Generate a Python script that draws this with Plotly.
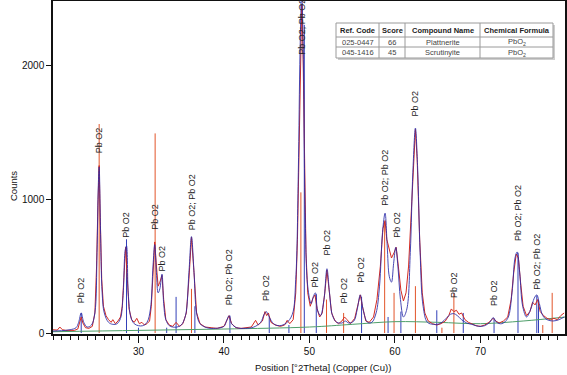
import plotly.graph_objects as go

# ---------------- data ----------------
# measured pattern (red)
obs_x = [20.0, 20.5, 20.8, 21.1, 21.5, 22.0, 22.5, 22.9, 23.1, 23.3, 23.5, 23.8, 24.2, 24.6, 24.9,
         25.1, 25.25, 25.4, 25.55, 25.7, 25.9, 26.2, 26.5, 26.8, 27.0, 27.3, 27.6, 27.9, 28.1, 28.3,
         28.5, 28.7, 28.9, 29.2, 29.5, 29.8, 30.1, 30.4, 30.7, 31.0, 31.3, 31.5, 31.7, 31.9, 32.1,
         32.3, 32.5, 32.75, 32.95, 33.2, 33.6, 34.0, 34.4, 34.8, 35.2, 35.6, 35.9, 36.2, 36.5, 36.8,
         37.2, 37.8, 38.5, 39.2, 40.0, 40.3, 40.6, 40.9, 41.4, 42.0, 42.6, 43.2, 43.7, 44.0, 44.5,
         44.8, 45.0, 45.2, 45.5, 46.0, 46.6, 47.1, 47.4, 47.7, 48.1, 48.4, 48.6, 48.8, 48.95, 49.1,
         49.25, 49.4, 49.6, 49.8, 50.1, 50.4, 50.65, 50.9, 51.2, 51.5, 51.8, 52.05, 52.3, 52.6, 53.0,
         53.4, 53.8, 54.1, 54.4, 54.8, 55.3, 55.7, 55.95, 56.2, 56.6, 57.0, 57.5, 57.9, 58.3, 58.6,
         58.85, 59.05, 59.3, 59.6, 59.9, 60.15, 60.4, 60.7, 61.0, 61.3, 61.6, 61.9, 62.2, 62.4, 62.6,
         62.9, 63.2, 63.5, 63.9, 64.4, 64.9, 65.4, 65.9, 66.3, 66.6, 66.9, 67.2, 67.5, 67.8, 68.2,
         68.6, 69.0, 69.5, 70.0, 70.5, 71.0, 71.5, 71.8, 72.2, 72.7, 73.2, 73.6, 73.9, 74.2, 74.45,
         74.7, 75.0, 75.4, 75.8, 76.1, 76.4, 76.7, 77.0, 77.4, 77.8, 78.2, 78.6, 79.0, 79.4, 79.8]
obs_y = [25, 22, 45, 25, 20, 22, 20, 30, 70, 120, 75, 40, 35, 50, 150,
         500, 950, 1250, 800, 400, 200, 130, 100, 80, 100, 70, 90, 120, 200, 400,
         640, 400, 180, 100, 80, 110, 70, 80, 60, 70, 90, 200, 450, 680, 500,
         350, 380, 430, 250, 100, 60, 50, 80, 50, 70, 150, 400, 715, 450, 150,
         70, 45, 40, 35, 50, 90, 130, 70, 40, 35, 40, 45, 95, 60, 90,
         160, 130, 150, 80, 60, 50, 60, 95, 70, 100, 300, 700, 1500, 2200, 2450,
         2100, 1300, 600, 300, 200, 260, 285, 180, 120, 150, 300, 470, 330, 150, 90,
         70, 90, 120, 100, 70, 110, 220, 285, 200, 90, 80, 120, 250, 500, 780,
         840, 700, 640, 560, 600, 640, 500, 320, 240, 300, 500, 900, 1300, 1520, 1300,
         700, 300, 150, 90, 70, 60, 70, 90, 130, 180, 160, 170, 140, 150, 100,
         80, 70, 55, 50, 60, 80, 110, 90, 75, 90, 120, 250, 450, 590, 560,
         380, 200, 130, 160, 230, 210, 250, 160, 130, 110, 100, 110, 100, 130, 150]

# calculated profile (blue)
calc_x = [20.0, 21.0, 22.0, 22.7, 23.0, 23.3, 23.6, 24.0, 24.5, 24.9, 25.15, 25.3, 25.4, 25.55, 25.75,
          26.0, 26.5, 27.0, 27.5, 27.9, 28.2, 28.45, 28.6, 28.8, 29.1, 29.5, 30.0, 30.5, 31.0, 31.4,
          31.7, 31.9, 32.1, 32.3, 32.5, 32.75, 32.95, 33.2, 33.6, 34.0, 34.5, 35.0, 35.5, 35.9, 36.2,
          36.5, 36.8, 37.2, 38.0, 39.0, 40.0, 40.3, 40.6, 40.9, 41.5, 42.5, 43.5, 44.3, 44.7, 44.95,
          45.3, 45.8, 46.5, 47.3, 48.0, 48.4, 48.7, 48.9, 49.1, 49.3, 49.5, 49.8, 50.2, 50.5, 50.7,
          50.95, 51.3, 51.7, 52.05, 52.35, 52.7, 53.2, 53.8, 54.2, 54.6, 55.2, 55.6, 55.95, 56.3, 56.8,
          57.3, 57.8, 58.2, 58.55, 58.85, 59.1, 59.35, 59.6, 59.85, 60.1, 60.35, 60.65, 61.0, 61.4, 61.8,
          62.1, 62.4, 62.65, 62.95, 63.3, 63.8, 64.5, 65.0, 65.5, 66.0, 66.5, 66.9, 67.3, 67.8, 68.4,
          69.0, 69.8, 70.5, 71.1, 71.5, 71.9, 72.5, 73.2, 73.7, 74.05, 74.3, 74.6, 74.95, 75.4, 75.9,
          76.3, 76.6, 76.9, 77.3, 77.8, 78.5, 79.2, 79.8]
calc_y = [15, 18, 25, 40, 80, 150, 80, 45, 60, 150, 600, 1100, 1240, 800, 300,
          150, 80, 65, 70, 110, 280, 620, 650, 300, 120, 70, 55, 55, 80, 180,
          500, 660, 450, 300, 330, 440, 220, 100, 55, 45, 45, 60, 130, 450, 720,
          450, 150, 70, 40, 35, 50, 90, 130, 70, 40, 35, 45, 80, 140, 160,
          120, 70, 55, 75, 140, 400, 1200, 2100, 2550, 2000, 900, 350, 220, 280, 300,
          170, 130, 250, 480, 300, 130, 80, 75, 90, 75, 90, 180, 285, 170, 80,
          80, 150, 350, 750, 895, 650, 420, 380, 520, 640, 500, 250, 120, 180, 600,
          1200, 1530, 1250, 600, 200, 80, 65, 65, 80, 110, 140, 145, 130, 100, 75,
          65, 50, 55, 80, 115, 80, 70, 110, 300, 560, 605, 450, 200, 120, 180,
          260, 285, 220, 130, 100, 90, 100, 120]

# background (green)
bg_x = [20, 30, 40, 50, 55, 60, 65, 70, 75, 80]
bg_y = [10, 20, 30, 45, 65, 85, 80, 70, 90, 120]

# reference sticks
ref1_code = "025-0447"
ref1_pos = [25.4, 31.95, 36.2, 49.0, 52.0, 54.0, 58.8, 59.9, 62.4, 65.5, 66.9, 77.3, 78.4]
ref1_int = [1560, 1490, 330, 1050, 250, 150, 830, 300, 350, 40, 300, 60, 300]
ref2_code = "045-1416"
ref2_pos = [23.3, 28.6, 30.0, 33.3, 34.4, 36.6, 40.7, 45.3, 47.6, 49.4, 50.8, 56.1, 59.2,
            60.7, 64.9, 68.0, 71.6, 74.4, 76.6, 76.8]
ref2_int = [150, 700, 40, 40, 270, 200, 130, 120, 60, 2300, 290, 270, 120,
            160, 170, 150, 110, 600, 280, 250]

# peak labels
label_pos = [23.3, 25.4, 28.5, 31.9, 32.8, 36.3, 40.6, 44.9, 49.1, 50.6, 52.1, 54.1, 56.0,
             58.8, 60.2, 62.4, 66.9, 71.6, 74.4, 76.6]
label_counts = [209, 1328, 694, 754, 448, 754, 194, 224, 2060, 321, 567, 209, 358,
                933, 694, 1604, 246, 187, 672, 306]
label_text = ["Pb O2", "Pb O2", "Pb O2", "Pb O2", "Pb O2", "Pb O2; Pb O2", "Pb O2; Pb O2",
              "Pb O2", "Pb O2; Pb O2", "Pb O2", "Pb O2", "Pb O2", "Pb O2", "Pb O2; Pb O2",
              "Pb O2", "Pb O2", "Pb O2", "Pb O2", "Pb O2; Pb O2", "Pb O2; Pb O2"]

# match table
tbl_header = ["Ref. Code", "Score", "Compound Name", "Chemical Formula"]
tbl_code = ["025-0447", "045-1416"]
tbl_score = ["66", "45"]
tbl_name = ["Plattnerite", "Scrutinyite"]
tbl_formula = ["PbO<sub>2</sub>", "PbO<sub>2</sub>"]

x_ticks = [30, 40, 50, 60, 70]
y_ticks = [0, 1000, 2000]

FONT = "Liberation Sans, Arial, sans-serif"

# figure geometry (pixels)
W, H = 567, 375
ML, MR, MT, MB = 53, 2, 1, 41
PW, PH = W - ML - MR, H - MT - MB


def px(xp):
    return (xp - ML) / PW


def py(yp):
    return (H - MB - yp) / PH


def sticks(pos, inten):
    xs, ys = [], []
    for p, h in zip(pos, inten):
        xs += [p, p, None]
        ys += [0, h, None]
    return xs, ys


fig = go.Figure()

s1x, s1y = sticks(ref1_pos, ref1_int)
s2x, s2y = sticks(ref2_pos, ref2_int)
fig.add_trace(go.Scatter(x=s1x, y=s1y, mode="lines", line=dict(color="#e2552a", width=1),
                         name=ref1_code, hoverinfo="skip"))
fig.add_trace(go.Scatter(x=s2x, y=s2y, mode="lines", line=dict(color="#3340b8", width=1),
                         name=ref2_code, hoverinfo="skip"))
fig.add_trace(go.Scatter(x=bg_x, y=bg_y, mode="lines", line=dict(color="#4f9f6a", width=1),
                         name="background", line_shape="spline"))
fig.add_trace(go.Scatter(x=obs_x, y=obs_y, mode="lines", line=dict(color="#d42a22", width=1),
                         name="observed"))
fig.add_trace(go.Scatter(x=calc_x, y=calc_y, mode="lines", line=dict(color="#2a2aa8", width=1),
                         opacity=0.85, name="calculated", line_shape="spline"))

for xp, yc, t in zip(label_pos, label_counts, label_text):
    fig.add_annotation(x=xp, y=yc, text=t, textangle=-90, showarrow=False,
                       xanchor="center", yanchor="bottom",
                       font=dict(family=FONT, size=9, color="#222"))

# ---- match table drawn with shapes + annotations (paper coords) ----
tx = [336, 379, 405, 480, 553]       # column edges (px)
ty = [23, 37, 47, 58]                # row edges (px)
fig.add_shape(type="rect", xref="paper", yref="paper", layer="above",
              x0=px(tx[0] + 2), x1=px(tx[-1] + 2), y0=py(ty[-1] + 2), y1=py(ty[0] + 2),
              fillcolor="#cdcdcd", line=dict(width=0))
fig.add_shape(type="rect", xref="paper", yref="paper", layer="above",
              x0=px(tx[0]), x1=px(tx[-1]), y0=py(ty[-1]), y1=py(ty[0]),
              fillcolor="white", line=dict(color="#9a9a9a", width=1))
for xe in tx[1:-1]:
    fig.add_shape(type="line", xref="paper", yref="paper", layer="above",
                  x0=px(xe), x1=px(xe), y0=py(ty[-1]), y1=py(ty[0]),
                  line=dict(color="#9a9a9a", width=1))
for ye in ty[1:-1]:
    fig.add_shape(type="line", xref="paper", yref="paper", layer="above",
                  x0=px(tx[0]), x1=px(tx[-1]), y0=py(ye), y1=py(ye),
                  line=dict(color="#9a9a9a", width=1))

columns = [tbl_code, tbl_score, tbl_name, tbl_formula]
for ci, head in enumerate(tbl_header):
    cx = px((tx[ci] + tx[ci + 1]) / 2)
    fig.add_annotation(xref="paper", yref="paper", x=cx, y=py((ty[0] + ty[1]) / 2),
                       text="<b>%s</b>" % head, showarrow=False, xanchor="center", yanchor="middle",
                       font=dict(family=FONT, size=7.5, color="#222"))
    for ri, val in enumerate(columns[ci]):
        fig.add_annotation(xref="paper", yref="paper", x=cx, y=py((ty[ri + 1] + ty[ri + 2]) / 2),
                           text=val, showarrow=False, xanchor="center", yanchor="middle",
                           font=dict(family=FONT, size=7.5, color="#444"))

# axis titles
fig.add_annotation(xref="paper", yref="paper", x=px(323), y=py(367),
                   text="Position [°2Theta] (Copper (Cu))", showarrow=False,
                   xanchor="center", yanchor="middle", font=dict(family=FONT, size=9.5, color="#111"))
fig.add_annotation(xref="paper", yref="paper", x=px(13), y=py(186), text="Counts",
                   textangle=-90, showarrow=False, xanchor="center", yanchor="middle",
                   font=dict(family=FONT, size=9.5, color="#111"))

fig.update_layout(
    width=W, height=H,
    margin=dict(l=ML, r=MR, t=MT, b=MB, autoexpand=False),
    paper_bgcolor="white", plot_bgcolor="white",
    showlegend=False,
    font=dict(family=FONT, size=10, color="#111"),
    xaxis=dict(range=[20.0, 79.9], tickvals=x_ticks, ticks="outside", ticklen=7, tickwidth=1,
               tickcolor="#111", showline=True, linecolor="#111", linewidth=1.5, mirror=True,
               showgrid=False, zeroline=False, automargin=False,
               minor=dict(dtick=1, ticks="outside", ticklen=4, tickcolor="#111", tickwidth=1),
               tickfont=dict(size=10)),
    yaxis=dict(range=[-7, 2478], tickvals=y_ticks, ticks="outside", ticklen=5, tickwidth=1,
               tickcolor="#111", showline=True, linecolor="#111", linewidth=1.5, mirror=True,
               showgrid=False, zeroline=False, automargin=False,
               tickfont=dict(size=10)),
)

fig.write_html(
    "out.html",
    config={"displayModeBar": False},
    post_script="document.body.style.margin='0';document.body.style.padding='0';"
                "document.body.style.overflow='hidden';",
)
